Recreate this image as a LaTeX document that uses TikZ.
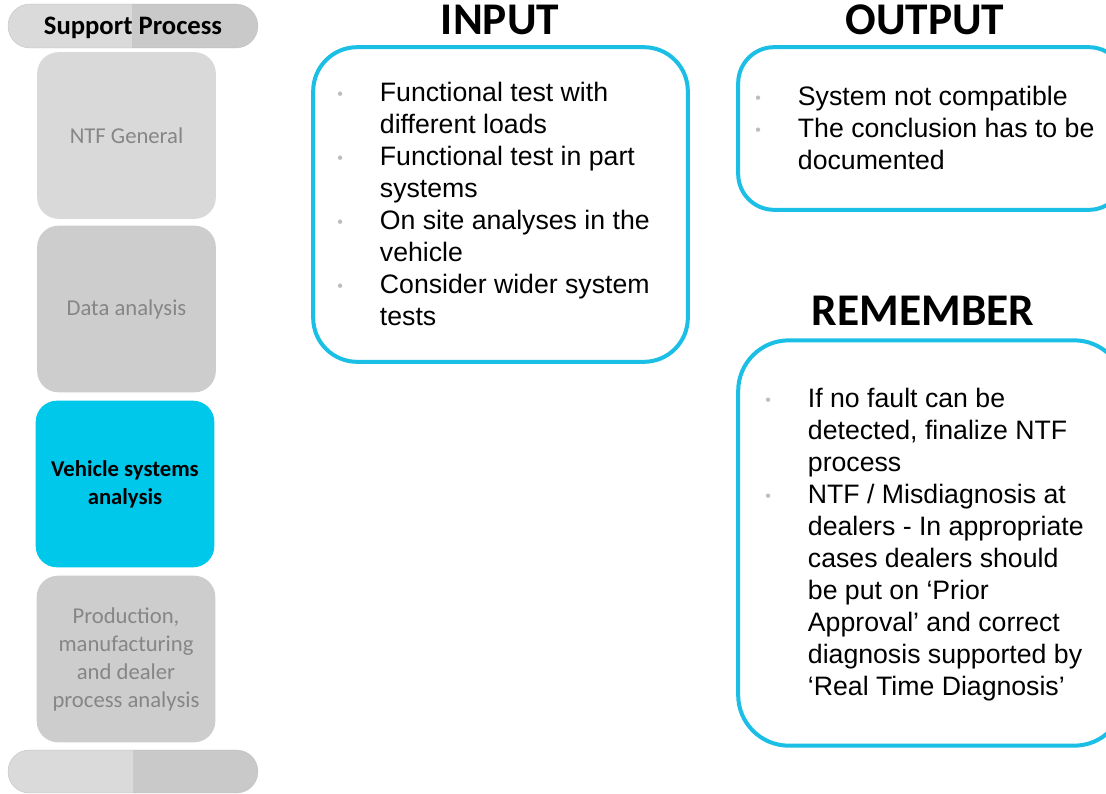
\documentclass[tikz,border=0pt]{standalone}
\usepackage{fontspec}
\setmainfont{Liberation Sans}
\newfontfamily\calfont{Carlito}
\definecolor{cyanfill}{HTML}{00C8EB}
\definecolor{cyanline}{HTML}{1BBFE6}
\definecolor{boxA}{HTML}{D9D9D9}
\definecolor{boxB}{HTML}{CDCDCD}
\definecolor{pillL}{HTML}{DADADA}
\definecolor{pillR}{HTML}{C9C9C9}
\definecolor{txtgray}{HTML}{868686}
\definecolor{bulgray}{HTML}{BDBDBD}
\newcommand\bul{\makebox[32pt][l]{\raisebox{1.5pt}{\textcolor{bulgray}{\fontsize{12}{12}\selectfont •}}}}
\newcommand\nob{\hspace*{32pt}}
\begin{document}
\begin{tikzpicture}[x=0.75pt,y=-0.75pt,
  stagebox/.style={rectangle, rounded corners=16pt, minimum width=134pt, minimum height=125pt, inner sep=0pt, align=center,
     font=\calfont\fontsize{17}{21}\selectfont, text=txtgray},
  cybox/.style={rectangle, draw=cyanline, line width=3pt, fill=white, inner sep=0pt},
  title/.style={font=\calfont\bfseries\fontsize{34}{40}\selectfont, inner sep=0pt},
  listtext/.style={anchor=base west, inner sep=0pt, font=\fontsize{20}{24}\selectfont}
]
\clip (0,0) rectangle (1106,793);
\fill[white] (0,0) rectangle (1106,793);
% top pill
\begin{scope}
\clip[rounded corners=16.5pt] (8,4) rectangle (258,48);
\fill[pillR] (8,4) rectangle (258,48);
\fill[pillL] (8,4) rectangle (132,48);
\end{scope}
\draw[pillR!85!black, line width=0.4pt, rounded corners=16.5pt, draw opacity=0.35] (8,4) rectangle (258,48);
\node[font=\calfont\bfseries\fontsize{20}{24}\selectfont, inner sep=0pt] (sp) at (133,28) {Support Process};
% bottom pill
\begin{scope}
\clip[rounded corners=16pt] (8,750) rectangle (258,793);
\fill[pillR] (8,750) rectangle (258,793);
\fill[pillL] (8,750) rectangle (133,793);
\end{scope}
\draw[pillR!85!black, line width=0.4pt, rounded corners=16pt, draw opacity=0.35] (8,750) rectangle (258,793);
% stage boxes
\node[stagebox, fill=boxA] (ntf) at (126.5,135.5) {NTF General};
\node[stagebox, fill=boxB] (data) at (126.5,309) {Data analysis};
\node[stagebox, fill=cyanfill, text=black, font=\calfont\bfseries\fontsize{17}{21}\selectfont] (veh) at (125,484) {Vehicle systems\\analysis};
\node[stagebox, fill=boxB] (prod) at (126,659) {Production,\\manufacturing\\and dealer\\process analysis};
% titles
\node[title] (tin) at (500,20) {INPUT};
\node[title] (tout) at (925,20) {OUTPUT};
\node[title] (trem) at (923,311) {REMEMBER};
% boxes
\node[cybox, rounded corners=33pt, minimum width=281pt, minimum height=236pt] (inbox) at (500.5,204.5) {};
\node[cybox, rounded corners=27pt, minimum width=290pt, minimum height=122pt] (outbox) at (931.5,128.5) {};
\node[cybox, rounded corners=38pt, minimum width=290pt, minimum height=304pt] (rembox) at (931.5,543) {};
% lists
\node[listtext] (inlist) at (337,101.5) {\begin{tabular}[t]{@{}l@{}}
\bul Functional test with\\
\nob different loads\\
\bul Functional test in part\\
\nob systems\\
\bul On site analyses in the\\
\nob vehicle\\
\bul Consider wider system\\
\nob tests
\end{tabular}};
\node[listtext] (outlist) at (755,105.5) {\begin{tabular}[t]{@{}l@{}}
\bul System not compatible\\
\bul The conclusion has to be\\
\nob documented
\end{tabular}};
\node[listtext] (remlist) at (765,407.5) {\begin{tabular}[t]{@{}l@{}}
\bul If no fault can be\\
\nob detected, finalize NTF\\
\nob process\\
\bul NTF / Misdiagnosis at\\
\nob dealers - In appropriate\\
\nob cases dealers should\\
\nob be put on ‘Prior\\
\nob Approval’ and correct\\
\nob diagnosis supported by\\
\nob ‘Real Time Diagnosis’
\end{tabular}};
\end{tikzpicture}
\end{document}
